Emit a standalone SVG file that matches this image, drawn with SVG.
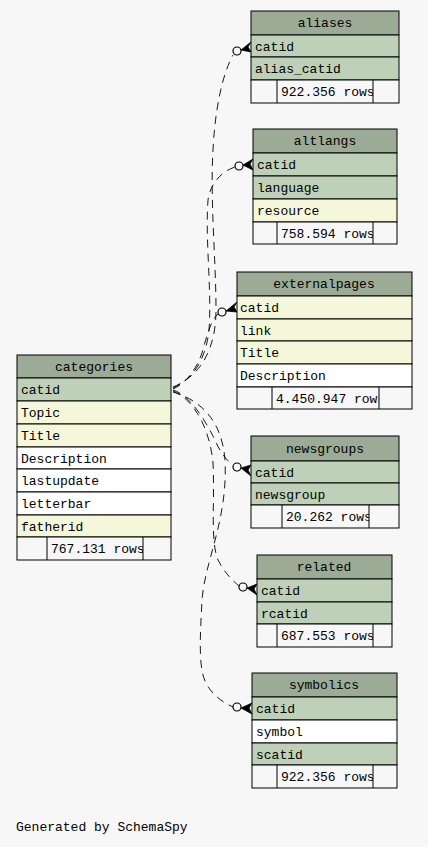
<svg xmlns="http://www.w3.org/2000/svg" width="428" height="847" viewBox="0 0 428 847">
<style>
text{font-family:"Liberation Mono","DejaVu Sans Mono",monospace;font-size:13px;fill:#000}
.h{fill:#9bab96;stroke:#000;stroke-width:1}
.k{fill:#bed1b8;stroke:#000;stroke-width:1}
.i{fill:#f4f7da;stroke:#000;stroke-width:1}
.w{fill:#ffffff;stroke:#000;stroke-width:1}
.r{fill:#f7f7f7;stroke:#000;stroke-width:1}
.c{text-anchor:middle}
.e{fill:none;stroke:#000;stroke-width:0.9;stroke-dasharray:8,6}
.o{fill:none;stroke:#000;stroke-width:1.2}
.f{fill:#000;stroke:#000;stroke-width:0.8}
</style>
<defs>
<clipPath id="cc"><rect x="47" y="537" width="96" height="23"/></clipPath>
<clipPath id="ca"><rect x="277" y="80" width="96" height="23"/></clipPath>
<clipPath id="cl"><rect x="277" y="222" width="96" height="22"/></clipPath>
<clipPath id="ce"><rect x="272" y="387" width="107" height="22"/></clipPath>
<clipPath id="cn"><rect x="282" y="505" width="87" height="23"/></clipPath>
<clipPath id="cr"><rect x="277" y="624" width="96" height="23"/></clipPath>
<clipPath id="cs"><rect x="277" y="765" width="96" height="23"/></clipPath>
</defs>
<rect width="428" height="847" fill="#f7f7f7"/>

<g id="connectors">
<path class="e" d="M173,387 C200,376 216,350 216,310 C216,260 210,200 213,150 C215,110 222,75 233,55"/>
<path class="e" d="M173,388 C192,380 206,360 209,330 C212,290 205,240 208,200 C210,185 220,172 235,167"/>
<path class="e" d="M173,389 C186,383 196,370 202,353 C207,335 211,320 218,314"/>
<path class="e" d="M173,390 C190,395 205,420 215,440 C220,452 226,460 233,465"/>
<path class="e" d="M173,391 C195,400 210,430 213,463 C215,500 210,540 218,560 C224,572 232,580 239,586"/>
<path class="e" d="M173,392 C200,400 222,420 225,460 C228,520 205,560 202,600 C200,640 198,670 207,685 C213,695 222,702 233,707"/>
<circle class="o" cx="237" cy="51" r="4"/>
<polygon class="f" points="241,50 251,42 248,47 251,52"/>
<circle class="o" cx="239" cy="166" r="4"/>
<polygon class="f" points="243,165 253,159 250,164 253,170"/>
<circle class="o" cx="222" cy="312" r="4"/>
<polygon class="f" points="226,311 237,302 234,307 237,312"/>
<circle class="o" cx="237" cy="467" r="4"/>
<polygon class="f" points="241,468 251,465 248,470 251,476"/>
<circle class="o" cx="243" cy="587" r="4"/>
<polygon class="f" points="247,588 257,584 254,589 257,595"/>
<circle class="o" cx="237" cy="707" r="4"/>
<polygon class="f" points="241,708 252,703 249,708 252,714"/>
</g>

<g id="categories">
<rect class="h" x="17" y="355" width="154" height="23"/>
<text class="c" x="94" y="371">categories</text>
<rect class="k" x="17" y="378" width="154" height="23"/><text x="21" y="394">catid</text>
<rect class="i" x="17" y="401" width="154" height="23"/><text x="21" y="417">Topic</text>
<rect class="i" x="17" y="424" width="154" height="23"/><text x="21" y="440">Title</text>
<rect class="w" x="17" y="447" width="154" height="22"/><text x="21" y="463">Description</text>
<rect class="w" x="17" y="469" width="154" height="23"/><text x="21" y="485">lastupdate</text>
<rect class="w" x="17" y="492" width="154" height="23"/><text x="21" y="508">letterbar</text>
<rect class="i" x="17" y="515" width="154" height="22"/><text x="21" y="531">fatherid</text>
<rect class="r" x="17" y="537" width="154" height="23"/>
<line x1="47" y1="537" x2="47" y2="560" stroke="#000"/><line x1="143" y1="537" x2="143" y2="560" stroke="#000"/>
<text x="51" y="553" clip-path="url(#cc)">767.131 rows</text>
</g>

<g id="aliases">
<rect class="h" x="251" y="11" width="148" height="24"/>
<text class="c" x="325" y="27">aliases</text>
<rect class="k" x="251" y="35" width="148" height="22"/><text x="255" y="51">catid</text>
<rect class="k" x="251" y="57" width="148" height="23"/><text x="255" y="73">alias_catid</text>
<rect class="r" x="251" y="80" width="148" height="23"/>
<line x1="277" y1="80" x2="277" y2="103" stroke="#000"/><line x1="373" y1="80" x2="373" y2="103" stroke="#000"/>
<text x="281" y="96" clip-path="url(#ca)">922.356 rows</text>
</g>

<g id="altlangs">
<rect class="h" x="253" y="129" width="144" height="24"/>
<text class="c" x="325" y="145">altlangs</text>
<rect class="k" x="253" y="153" width="144" height="23"/><text x="257" y="169">catid</text>
<rect class="k" x="253" y="176" width="144" height="23"/><text x="257" y="192">language</text>
<rect class="i" x="253" y="199" width="144" height="23"/><text x="257" y="215">resource</text>
<rect class="r" x="253" y="222" width="144" height="22"/>
<line x1="277" y1="222" x2="277" y2="244" stroke="#000"/><line x1="373" y1="222" x2="373" y2="244" stroke="#000"/>
<text x="281" y="238" clip-path="url(#cl)">758.594 rows</text>
</g>

<g id="externalpages">
<rect class="h" x="237" y="272" width="175" height="24"/>
<text class="c" x="324" y="288">externalpages</text>
<rect class="i" x="237" y="296" width="175" height="23"/><text x="240" y="312">catid</text>
<rect class="i" x="237" y="319" width="175" height="22"/><text x="240" y="335">link</text>
<rect class="i" x="237" y="341" width="175" height="23"/><text x="240" y="357">Title</text>
<rect class="w" x="237" y="364" width="175" height="23"/><text x="240" y="380">Description</text>
<rect class="r" x="237" y="387" width="175" height="22"/>
<line x1="272" y1="387" x2="272" y2="409" stroke="#000"/><line x1="379" y1="387" x2="379" y2="409" stroke="#000"/>
<text x="276" y="403" clip-path="url(#ce)">4.450.947 rows</text>
</g>

<g id="newsgroups">
<rect class="h" x="251" y="436" width="148" height="25"/>
<text class="c" x="325" y="453">newsgroups</text>
<rect class="k" x="251" y="461" width="148" height="22"/><text x="255" y="477">catid</text>
<rect class="k" x="251" y="483" width="148" height="22"/><text x="255" y="499">newsgroup</text>
<rect class="r" x="251" y="505" width="148" height="23"/>
<line x1="282" y1="505" x2="282" y2="528" stroke="#000"/><line x1="369" y1="505" x2="369" y2="528" stroke="#000"/>
<text x="286" y="521" clip-path="url(#cn)">20.262 rows</text>
</g>

<g id="related">
<rect class="h" x="257" y="555" width="135" height="24"/>
<text class="c" x="324" y="571">related</text>
<rect class="k" x="257" y="579" width="135" height="23"/><text x="261" y="595">catid</text>
<rect class="k" x="257" y="602" width="135" height="22"/><text x="261" y="618">rcatid</text>
<rect class="r" x="257" y="624" width="135" height="23"/>
<line x1="277" y1="624" x2="277" y2="647" stroke="#000"/><line x1="373" y1="624" x2="373" y2="647" stroke="#000"/>
<text x="281" y="640" clip-path="url(#cr)">687.553 rows</text>
</g>

<g id="symbolics">
<rect class="h" x="252" y="673" width="145" height="24"/>
<text class="c" x="324" y="689">symbolics</text>
<rect class="k" x="252" y="697" width="145" height="23"/><text x="256" y="713">catid</text>
<rect class="w" x="252" y="720" width="145" height="23"/><text x="256" y="736">symbol</text>
<rect class="k" x="252" y="743" width="145" height="22"/><text x="256" y="759">scatid</text>
<rect class="r" x="252" y="765" width="145" height="23"/>
<line x1="277" y1="765" x2="277" y2="788" stroke="#000"/><line x1="373" y1="765" x2="373" y2="788" stroke="#000"/>
<text x="281" y="781" clip-path="url(#cs)">922.356 rows</text>
</g>

<text x="16" y="831" font-size="13.5">Generated by SchemaSpy</text>
</svg>
